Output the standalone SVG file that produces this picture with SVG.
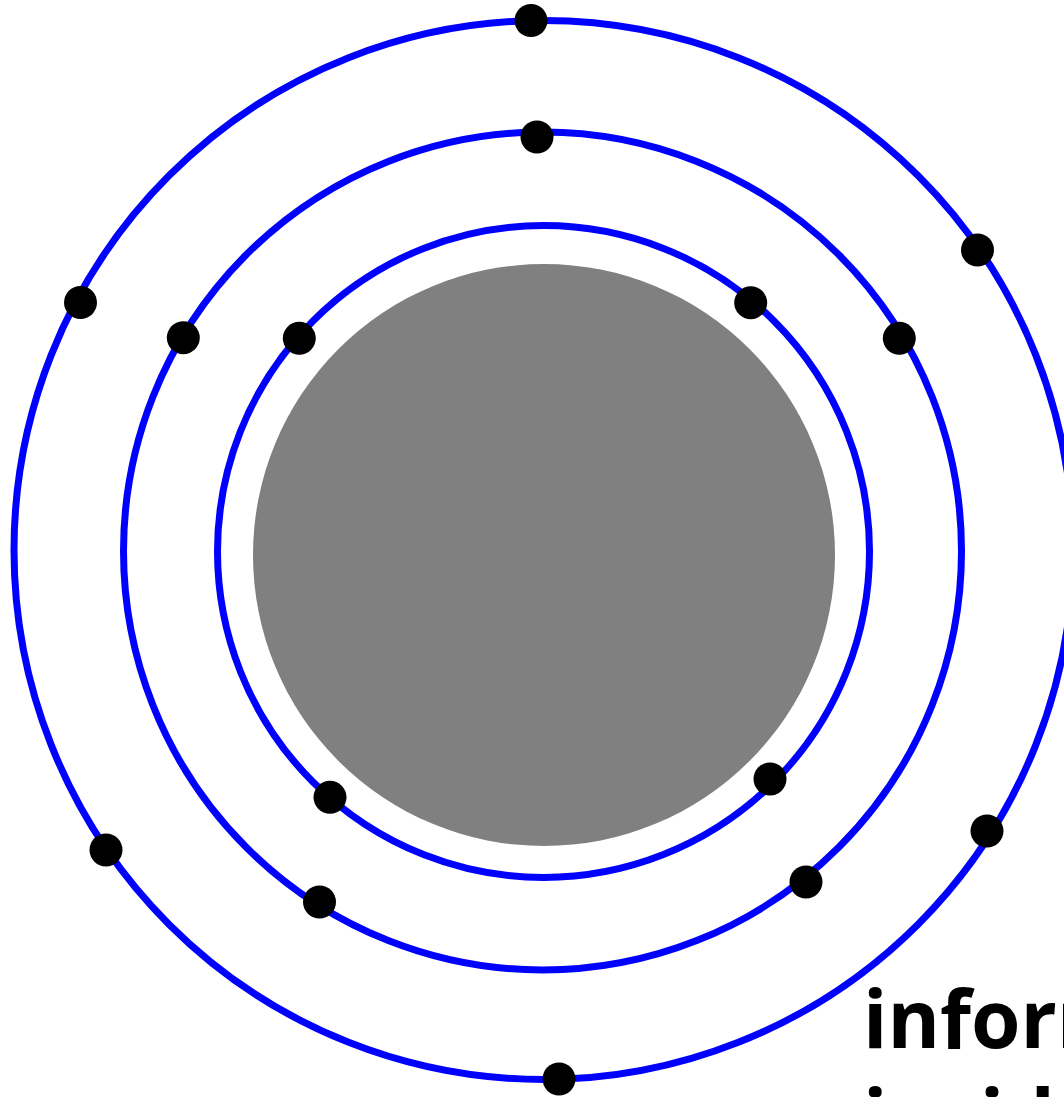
<svg xmlns="http://www.w3.org/2000/svg" width="1064" height="1097" viewBox="0 0 1064 1097">
<style>
.orbit{fill:none;stroke:#0000ff;stroke-width:7}
.e{fill:#000}
.lbl{font-family:"Open Sans","Noto Sans","DejaVu Sans",sans-serif;font-weight:bold;font-size:80px;fill:#000}
</style>
<rect width="1064" height="1097" fill="#fff"/>
<g id="nucleus"><circle cx="544" cy="555" r="291" fill="#808080"/></g>
<g id="orbits">
<circle class="orbit" cx="543.5" cy="551.5" r="326"/>
<circle class="orbit" cx="542.5" cy="551" r="419"/>
<circle class="orbit" cx="543.5" cy="550" r="529.5"/>
</g>
<g id="electrons">
<circle class="e" cx="531" cy="20.5" r="16.5"/>
<circle class="e" cx="80.5" cy="302.5" r="16.5"/>
<circle class="e" cx="977.5" cy="250" r="16.5"/>
<circle class="e" cx="106" cy="850" r="16.5"/>
<circle class="e" cx="987" cy="831" r="16.5"/>
<circle class="e" cx="559" cy="1079" r="16.5"/>
<circle class="e" cx="537" cy="137" r="16.5"/>
<circle class="e" cx="183.3" cy="337.7" r="16.5"/>
<circle class="e" cx="899.3" cy="338.3" r="16.5"/>
<circle class="e" cx="319.5" cy="902" r="16.5"/>
<circle class="e" cx="806" cy="882" r="16.5"/>
<circle class="e" cx="299.3" cy="338.3" r="16.5"/>
<circle class="e" cx="750.7" cy="302.7" r="16.5"/>
<circle class="e" cx="330" cy="797.3" r="16.5"/>
<circle class="e" cx="770" cy="779" r="16.5"/>
</g>
<g id="label">
<text class="lbl" x="863" y="1048">information</text>
<text class="lbl" x="863" y="1147">inside</text>
</g>
</svg>
